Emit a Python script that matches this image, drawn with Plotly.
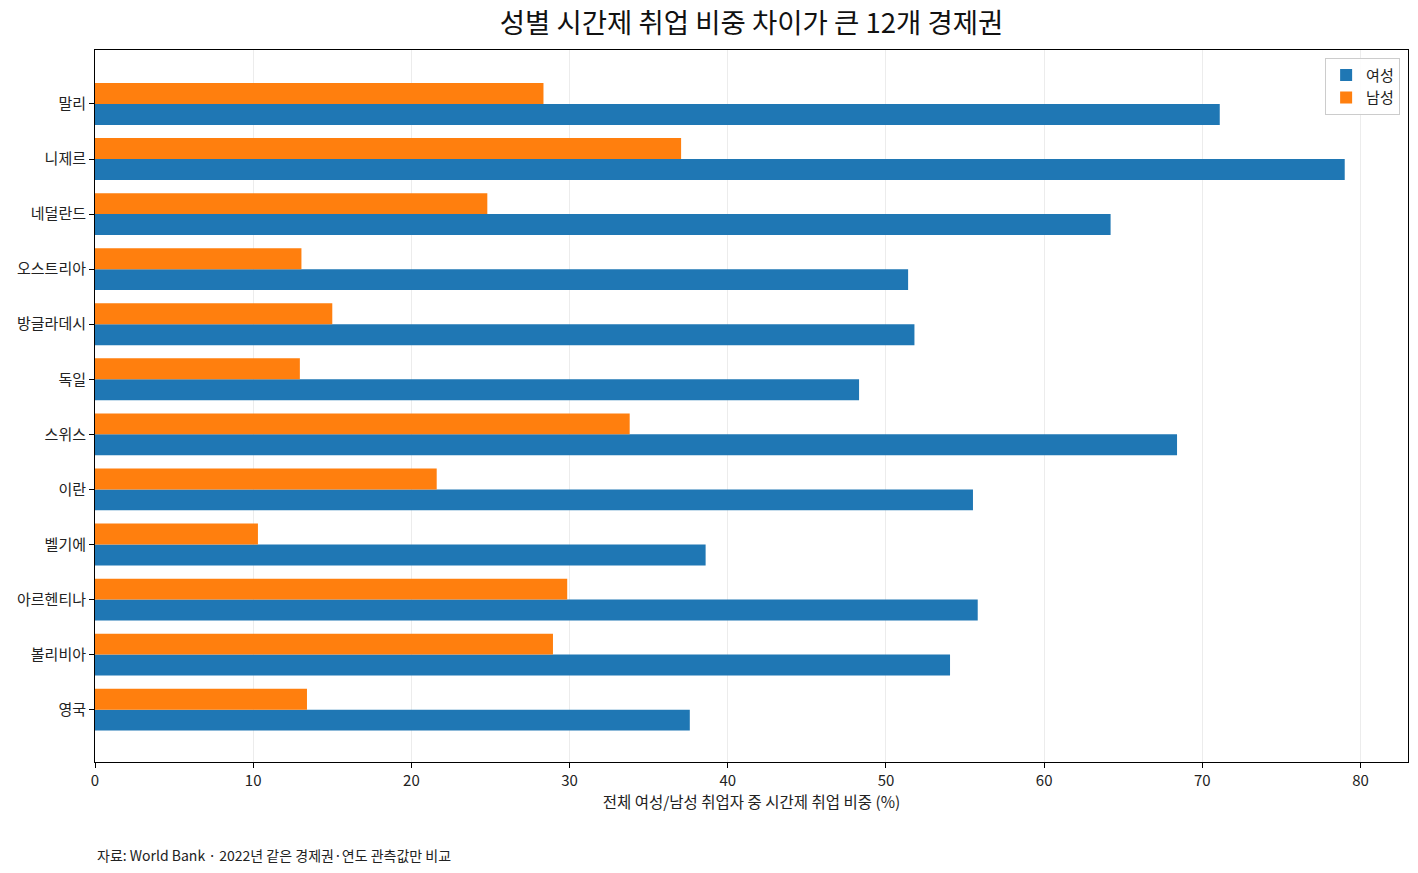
import plotly.graph_objects as go

countries = ["말리", "니제르", "네덜란드", "오스트리아", "방글라데시", "독일",
             "스위스", "이란", "벨기에", "아르헨티나", "볼리비아", "영국"]
female_share = [71.1, 79.0, 64.2, 51.4, 51.8, 48.3, 68.4, 55.5, 38.6, 55.8, 54.05, 37.6]
male_share = [28.35, 37.05, 24.8, 13.05, 15.0, 12.95, 33.8, 21.6, 10.3, 29.85, 28.95, 13.4]
x_ticks = [0, 10, 20, 30, 40, 50, 60, 70, 80]

FONT = "Noto Sans CJK KR"

fig = go.Figure()
fig.add_trace(go.Bar(
    y=countries,
    x=female_share,
    name="여성",
    orientation="h",
    marker=dict(color="#1f77b4", line=dict(width=0)),
))
fig.add_trace(go.Bar(
    y=countries,
    x=male_share,
    name="남성",
    orientation="h",
    marker=dict(color="#ff7f0e", line=dict(width=0)),
))

fig.add_annotation(
    x=0, y=-0.1306, xref="paper", yref="paper",
    xanchor="left", yanchor="middle",
    text="자료: World Bank · 2022년 같은 경제권·연도 관측값만 비교",
    showarrow=False,
    font=dict(size=14, color="#222222", family=FONT),
)

fig.update_layout(
    width=1418,
    height=873,
    margin=dict(l=95, r=10, t=50, b=111),
    paper_bgcolor="white",
    plot_bgcolor="white",
    font=dict(family=FONT, size=15, color="#222222"),
    title=dict(
        text="성별 시간제 취업 비중 차이가 큰 12개 경제권",
        x=0.5, xref="paper", xanchor="center",
        y=0.9737, yref="container", yanchor="middle",
        font=dict(size=27.5, color="#111111", family=FONT),
    ),
    barmode="group",
    bargap=0.24,
    bargroupgap=0,
    xaxis=dict(
        range=[0, 83.0],
        tickvals=x_ticks,
        ticks="outside",
        ticklen=5,
        tickcolor="black",
        showline=True,
        linecolor="black",
        linewidth=1,
        mirror=True,
        showgrid=True,
        gridcolor="#ececec",
        gridwidth=1,
        zeroline=False,
        tickfont=dict(size=15),
        title=dict(text="전체 여성/남성 취업자 중 시간제 취업 비중 (%)", font=dict(size=15.5), standoff=6),
    ),
    yaxis=dict(
        categoryorder="array",
        categoryarray=countries[::-1],
        range=[-0.95, 11.98],
        ticks="outside",
        ticklen=5,
        tickcolor="black",
        showline=True,
        linecolor="black",
        linewidth=1,
        mirror=True,
        showgrid=False,
        zeroline=False,
        tickfont=dict(size=15),
    ),
    legend=dict(
        x=0.994, y=0.989, xanchor="right", yanchor="top",
        bgcolor="rgba(255,255,255,0.9)",
        bordercolor="#cccccc",
        borderwidth=1,
        font=dict(size=15),
        traceorder="normal",
    ),
)

# drop the default body margin so the figure fills the window exactly
fig.write_html(
    "out.html",
    config={"displayModeBar": False},
    post_script="document.body.style.margin='0';",
)
